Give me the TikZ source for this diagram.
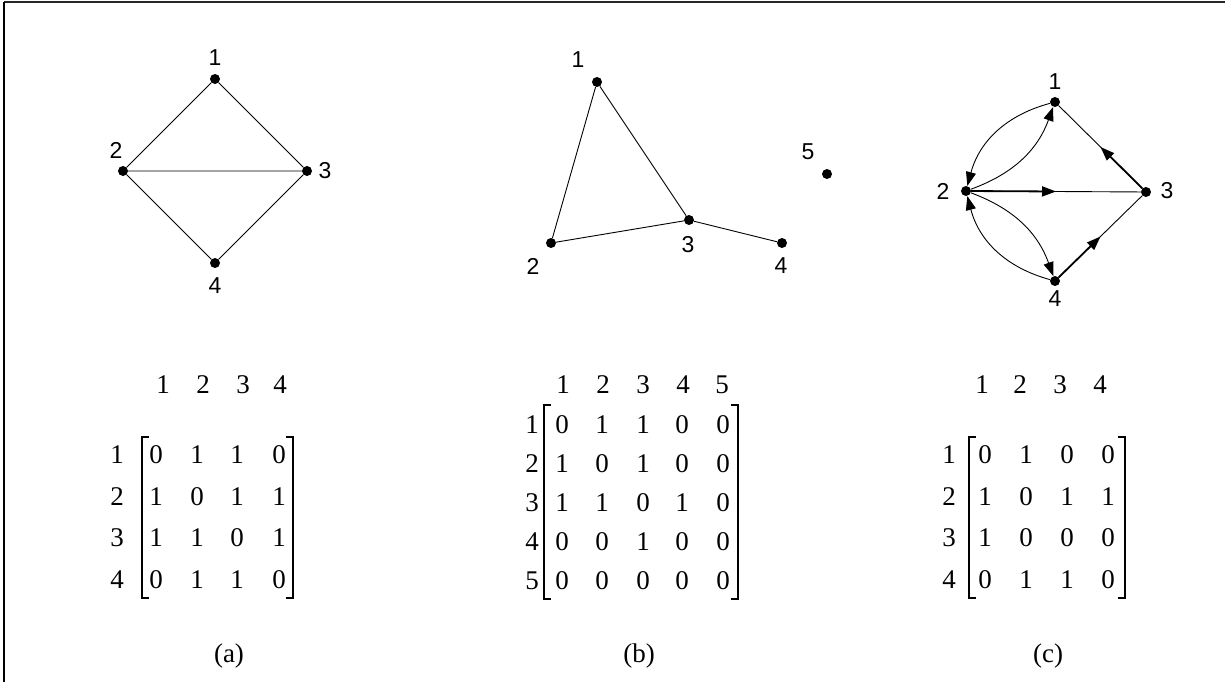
\documentclass[tikz,border=0pt]{standalone}
\usepackage{fontspec}
\setmainfont{Liberation Serif}
\newfontfamily\arialf{Liberation Sans}
\usetikzlibrary{arrows.meta,calc}
\begin{document}
\begin{tikzpicture}[x=1pt,y=-1pt,
  vtx/.style={circle,fill=black,inner sep=0pt,minimum size=10pt},
  glab/.style={font=\arialf\fontsize{23}{27}\selectfont,inner sep=0pt},
  mtx/.style={font=\fontsize{27}{31}\selectfont,inner sep=0pt},
  captxt/.style={font=\fontsize{27}{31}\selectfont,inner sep=0pt},
  edgeline/.style={line width=0.9pt},
  brk/.style={line width=1.3pt},
  tipped/.style={-{Triangle[length=14pt,width=10pt]}},
  half/.style={line width=1.8pt,-{Triangle[length=14pt,width=10pt]}},
]
\useasboundingbox (0,0) rectangle (1225,682);
% frame
\draw[line width=2pt,black!85] (4,2) -- (1225,2);
\draw[line width=1.5pt] (4,2) -- (4,682);

% ---------- graph (a)
\node[vtx] (a1) at (215,79) {};
\node[vtx] (a2) at (123,171) {};
\node[vtx] (a3) at (307,171) {};
\node[vtx] (a4) at (215,263) {};
\node[glab] (la1) at (215,58) {1};
\node[glab] (la2) at (116,150) {2};
\node[glab] (la3) at (325,171) {3};
\node[glab] (la4) at (215,286) {4};
\draw[edgeline] (a1) -- (a2) (a1) -- (a3) (a2) -- (a3) (a2) -- (a4) (a3) -- (a4);

% ---------- graph (b)
\node[vtx] (b1) at (597,82) {};
\node[vtx] (b2) at (551,243) {};
\node[vtx] (b3) at (689,220) {};
\node[vtx] (b4) at (782,243) {};
\node[vtx] (b5) at (827,174) {};
\node[glab] (lb1) at (578,60) {1};
\node[glab] (lb2) at (533,266) {2};
\node[glab] (lb3) at (688,245) {3};
\node[glab] (lb4) at (781,266) {4};
\node[glab] (lb5) at (808,152) {5};
\draw[edgeline] (b1) -- (b2) (b1) -- (b3) (b2) -- (b3) (b3) -- (b4);

% ---------- graph (c)
\node[vtx] (c1) at (1055,102) {};
\node[vtx] (c2) at (966,191) {};
\node[vtx] (c3) at (1146,192) {};
\node[vtx] (c4) at (1055,281) {};
\node[glab] (lc1) at (1055,82) {1};
\node[glab] (lc2) at (943,191) {2};
\node[glab] (lc3) at (1167,191) {3};
\node[glab] (lc4) at (1055,299) {4};
\draw[edgeline] (c2) -- (c3) (c3) -- (c1) (c4) -- (c3);
\draw[half] (c2) -- ($(c2)!0.5!(c3)$);
\draw[half] (c3) -- ($(c3)!0.5!(c1)$);
\draw[half] (c4) -- ($(c4)!0.5!(c3)$);
\draw[edgeline,tipped] (c1) to[bend right=30] (c2);
\draw[edgeline,tipped] (c2) to[bend right=25] (c1);
\draw[edgeline,tipped] (c2) to[bend left=25] (c4);
\draw[edgeline,tipped] (c4) to[bend left=30] (c2);

% ---------- matrix (a)
\foreach \h [count=\j] in {163,203,243,280} \node[mtx] (ah\j) at (\h,385) {\j};
\foreach \y [count=\i] in {455,497,538,580} \node[mtx] (ar\i) at (117,\y) {\i};
\foreach \row [count=\i] in {{0,1,1,0},{1,0,1,1},{1,1,0,1},{0,1,1,0}} {
  \foreach \v [count=\j] in \row {
    \pgfmathsetmacro{\xx}{{156,197,237,279}[\j-1]}
    \pgfmathsetmacro{\yy}{{455,497,538,580}[\i-1]}
    \node[mtx] (a-\i-\j) at (\xx,\yy) {\v};
  }
}
\draw[brk] (149,437) -- (142,437) -- (142,598) -- (149,598);
\draw[brk] (286,437) -- (293,437) -- (293,598) -- (286,598);
\node[captxt] (capa) at (229,656) {(a)};

% ---------- matrix (b)
\foreach \h [count=\j] in {563,603,643,683,722} \node[mtx] (bh\j) at (\h,385) {\j};
\foreach \y [count=\i] in {425,464,503,542,581} \node[mtx] (br\i) at (532,\y) {\i};
\foreach \row [count=\i] in {{0,1,1,0,0},{1,0,1,0,0},{1,1,0,1,0},{0,0,1,0,0},{0,0,0,0,0}} {
  \foreach \v [count=\j] in \row {
    \pgfmathsetmacro{\xx}{{562,602,643,682,723}[\j-1]}
    \pgfmathsetmacro{\yy}{{425,464,503,542,581}[\i-1]}
    \node[mtx] (b-\i-\j) at (\xx,\yy) {\v};
  }
}
\draw[brk] (551,405) -- (544,405) -- (544,599) -- (551,599);
\draw[brk] (731,405) -- (738,405) -- (738,599) -- (731,599);
\node[captxt] (capb) at (639,656) {(b)};

% ---------- matrix (c)
\foreach \h [count=\j] in {982,1020,1060,1100} \node[mtx] (ch\j) at (\h,385) {\j};
\foreach \y [count=\i] in {455,497,538,580} \node[mtx] (cr\i) at (949,\y) {\i};
\foreach \row [count=\i] in {{0,1,0,0},{1,0,1,1},{1,0,0,0},{0,1,1,0}} {
  \foreach \v [count=\j] in \row {
    \pgfmathsetmacro{\xx}{{985,1026,1067,1108}[\j-1]}
    \pgfmathsetmacro{\yy}{{455,497,538,580}[\i-1]}
    \node[mtx] (c-\i-\j) at (\xx,\yy) {\v};
  }
}
\draw[brk] (976,437) -- (969,437) -- (969,598) -- (976,598);
\draw[brk] (1118,437) -- (1125,437) -- (1125,598) -- (1118,598);
\node[captxt] (capc) at (1048,656) {(c)};
\end{tikzpicture}
\end{document}
